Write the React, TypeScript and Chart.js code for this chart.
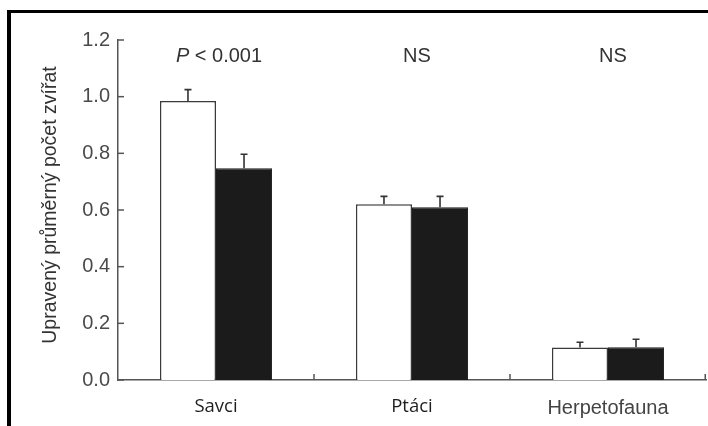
import { useEffect, useRef } from "react";
import { Chart, registerables } from "chart.js";

Chart.register(...registerables);

const categories = ["Savci", "Ptáci", "Herpetofauna"];
const openValues = [0.985, 0.62, 0.115];
const openErrors = [0.04, 0.028, 0.018];
const filledValues = [0.747, 0.61, 0.116];
const filledErrors = [0.05, 0.038, 0.028];
const significance = ["P < 0.001", "NS", "NS"];
const yTicks = [0, 0.2, 0.4, 0.6, 0.8, 1.0, 1.2];
const yTitle = "Upravený průměrný počet zvířat";

const SANS = "'Liberation Sans', Arial, sans-serif";
const HUMAN = "'Open Sans', 'Noto Sans', sans-serif";

const decorPlugin = {
  id: "decor",
  afterDatasetsDraw(chart: any) {
    const ctx: CanvasRenderingContext2D = chart.ctx;
    const xs = chart.scales.x;
    const ys = chart.scales.y;
    const area = chart.chartArea;
    ctx.save();

    // error bars (upward only, with cap)
    const vals = [openValues, filledValues];
    const errs = [openErrors, filledErrors];
    ctx.strokeStyle = "#333";
    ctx.lineWidth = 1.6;
    for (let d = 0; d < 2; d++) {
      const meta = chart.getDatasetMeta(d);
      meta.data.forEach((bar: any, i: number) => {
        const top = ys.getPixelForValue(vals[d][i]);
        const end = ys.getPixelForValue(vals[d][i] + errs[d][i]);
        ctx.beginPath();
        ctx.moveTo(bar.x, top);
        ctx.lineTo(bar.x, end);
        ctx.moveTo(bar.x - 3.5, end);
        ctx.lineTo(bar.x + 3.5, end);
        ctx.stroke();
      });
    }

    // inward tick marks on y axis
    ctx.strokeStyle = "#555";
    ctx.lineWidth = 1.5;
    yTicks.forEach((v) => {
      const py = ys.getPixelForValue(v);
      ctx.beginPath();
      ctx.moveTo(area.left, py);
      ctx.lineTo(area.left + 6, py);
      ctx.stroke();
    });

    // inward category boundary ticks on x axis
    categories.forEach((_, i) => {
      const px =
        i < categories.length - 1
          ? (xs.getPixelForValue(i) + xs.getPixelForValue(i + 1)) / 2
          : area.right - 0.75;
      ctx.beginPath();
      ctx.moveTo(px, area.bottom);
      ctx.lineTo(px, area.bottom - 6);
      ctx.stroke();
    });

    // significance labels
    ctx.fillStyle = "#333";
    ctx.textBaseline = "alphabetic";
    significance.forEach((txt, i) => {
      const cx = xs.getPixelForValue(i) + 3;
      const by = 62;
      if (txt.startsWith("P")) {
        const italic = `italic 20px ${SANS}`;
        const normal = `20px ${SANS}`;
        ctx.font = italic;
        const wP = ctx.measureText("P").width;
        const rest = txt.slice(1);
        ctx.font = normal;
        const wR = ctx.measureText(rest).width;
        const start = cx - (wP + wR) / 2;
        ctx.textAlign = "left";
        ctx.font = italic;
        ctx.fillText("P", start, by);
        ctx.font = normal;
        ctx.fillText(rest, start + wP, by);
      } else {
        ctx.font = `20px ${SANS}`;
        ctx.textAlign = "center";
        ctx.fillText(txt, cx + 2, by);
      }
    });

    // y axis title
    ctx.save();
    ctx.translate(51, (area.top + area.bottom) / 2 - 5);
    ctx.rotate(-Math.PI / 2);
    ctx.font = `19.5px ${SANS}`;
    ctx.fillStyle = "#333";
    ctx.textAlign = "center";
    ctx.textBaseline = "middle";
    ctx.fillText(yTitle, 0, 0);
    ctx.restore();

    ctx.restore();
  },
};

export default function App() {
  const canvasRef = useRef<HTMLCanvasElement | null>(null);

  useEffect(() => {
    if (!canvasRef.current) return;
    const chart = new Chart(canvasRef.current, {
      type: "bar",
      data: {
        labels: categories,
        datasets: [
          {
            label: "open",
            data: openValues,
            backgroundColor: "#ffffff",
            borderColor: "#3a3a3a",
            borderWidth: 1.5,
            borderSkipped: "bottom",
            categoryPercentage: 0.572,
            barPercentage: 1,
          },
          {
            label: "filled",
            data: filledValues,
            backgroundColor: "#1b1b1b",
            borderColor: "#1b1b1b",
            borderWidth: 1,
            borderSkipped: "bottom",
            categoryPercentage: 0.572,
            barPercentage: 1,
          },
        ],
      },
      options: {
        animation: false,
        responsive: false,
        maintainAspectRatio: false,
        layout: { padding: { left: 0, right: 2, top: 40, bottom: 0 } },
        plugins: {
          legend: { display: false },
          tooltip: { enabled: false },
          title: { display: false },
        },
        scales: {
          x: {
            type: "category",
            offset: true,
            grid: { display: false, drawTicks: false },
            border: { display: true, color: "#555", width: 1.5 },
            ticks: {
              padding: 16,
              maxRotation: 0,
              autoSkip: false,
              color: (c: any) => (c.index === 2 ? "#444" : "#1e1e1e"),
              font: (c: any) =>
                c.index === 2
                  ? { family: SANS, size: 20 }
                  : { family: HUMAN, size: 18.5 },
            },
            afterFit: (s: any) => {
              s.height = 46;
            },
          },
          y: {
            min: 0,
            max: 1.2,
            afterBuildTicks: (s: any) => {
              s.ticks = yTicks.map((v) => ({ value: v }));
            },
            grid: { display: false, drawTicks: false },
            border: { display: true, color: "#555", width: 1.5 },
            ticks: {
              padding: 8,
              color: "#4a4a4a",
              font: { family: SANS, size: 20 },
              callback: (v: any) => Number(v).toFixed(1),
            },
            title: { display: false },
            afterFit: (s: any) => {
              s.width = 118;
            },
          },
        },
      },
      plugins: [decorPlugin],
    });
    return () => chart.destroy();
  }, []);

  return (
    <div
      style={{
        position: "fixed",
        left: 0,
        top: 0,
        width: 708,
        height: 426,
        background: "#fff",
        overflow: "hidden",
      }}
    >
      <div
        style={{
          position: "absolute",
          left: 7,
          top: 10,
          width: 701,
          height: 416,
          borderLeft: "4px solid #000",
          borderTop: "3px solid #000",
          boxSizing: "border-box",
        }}
      />
      <canvas
        ref={canvasRef}
        width={708}
        height={426}
        style={{ position: "absolute", left: 0, top: 0, width: 708, height: 426 }}
      />
    </div>
  );
}
